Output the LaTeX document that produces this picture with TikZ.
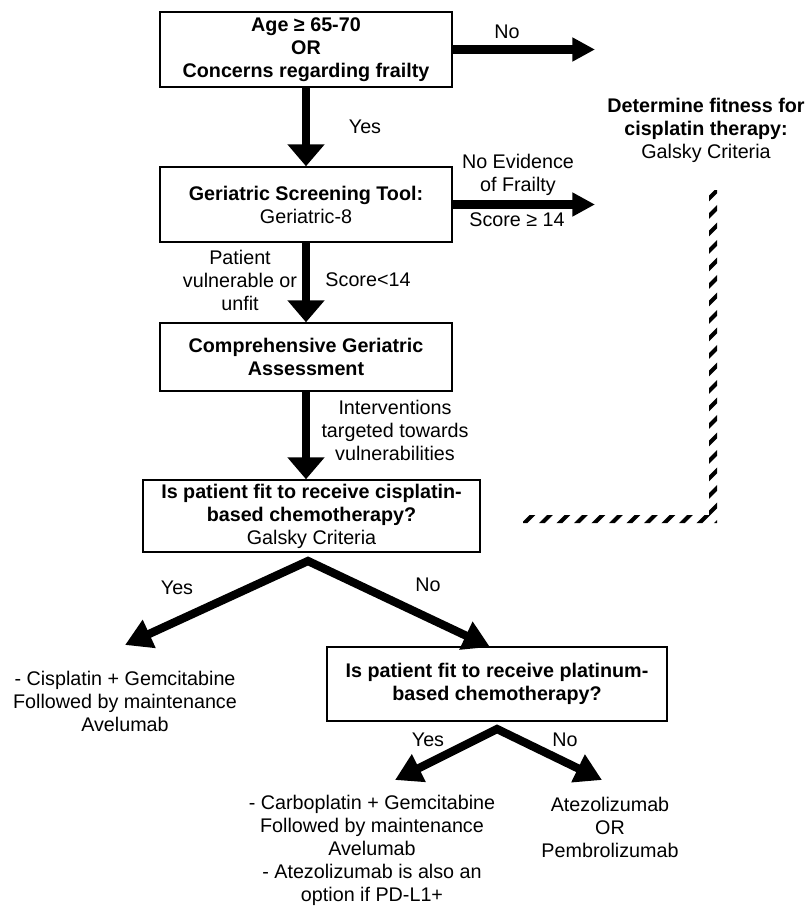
\documentclass[tikz,border=0pt]{standalone}
\usepackage{fontspec}
\setmainfont{Liberation Sans}
\usetikzlibrary{arrows.meta}
\begin{document}
\begin{tikzpicture}[x=0.75pt,y=-0.75pt,
  every node/.style={font=\fontsize{14.8}{17.25}\selectfont, align=center, inner sep=0pt},
  box/.style={draw, line width=1.1pt},
  flow/.style={line width=6.2pt, -{Triangle[length=17pt,width=17pt]}},
  vflow/.style={line width=6.2pt, -{Triangle[length=16.5pt,width=27pt]}},
  branch/.style={line width=6.2pt, line join=miter, {Triangle[length=20pt,width=22pt]}-{Triangle[length=20pt,width=22pt]}},
  stripe/.style={line width=3pt}
]
\useasboundingbox (0,0) rectangle (809,906);

% top box
\node[box, minimum width=219pt, minimum height=56.25pt] (age) at (306,49.5)
  {\textbf{Age ≥ 65-70}\\\textbf{OR}\\\textbf{Concerns regarding frailty}};
\coordinate (noend) at (595,49.5);
\draw[flow] (age.east) -- (noend);
\node (nolab) at (507,32) {No};

\node (det) at (706,130) {\textbf{Determine fitness for}\\\textbf{cisplatin therapy:}\\Galsky Criteria};

% geriatric screening
\node[box, minimum width=219pt, minimum height=56.25pt] (ger) at (306,204.5)
  {\textbf{Geriatric Screening Tool:}\\Geriatric-8};
\draw[vflow] (age.south) -- (ger.north);
\node (yes1) at (365,127) {Yes};
\coordinate (frend) at (595,204.5);
\draw[flow] (ger.east) -- (frend);
\node (nofr) at (518,174.5) {No Evidence\\of Frailty};
\node (sc14) at (517,220) {Score ≥ 14};

% CGA
\node[box, minimum width=219pt, minimum height=51pt] (cga) at (306,357)
  {\textbf{Comprehensive Geriatric}\\\textbf{Assessment}};
\draw[vflow] (ger.south) -- (cga.north);
\node (vuln) at (240,280) {Patient\\vulnerable or\\unfit};
\node (sclt) at (368,280) {Score<14};

% cisplatin fit
\node[box, minimum width=252.75pt, minimum height=54pt] (cis) at (311.5,516)
  {\textbf{Is patient fit to receive cisplatin-}\\\textbf{based chemotherapy?}\\Galsky Criteria};
\draw[vflow] (cga.south) -- (cga.south |- cis.north);
\node (interv) at (395,430) {Interventions\\targeted towards\\vulnerabilities};

\coordinate (apex1) at (308,561);
\coordinate (cisend) at (125,645);
\coordinate (platend) at (490,647);
\draw[branch] (cisend) -- (apex1) -- (platend);
\node (yes2) at (177,588) {Yes};
\node (no2) at (428,585) {No};

\node (cisres) at (125,701) {- Cisplatin + Gemcitabine\\Followed by maintenance\\Avelumab};

% platinum fit
\node[box, minimum width=255pt, minimum height=55.5pt] (plat) at (497,684)
  {\textbf{Is patient fit to receive platinum-}\\\textbf{based chemotherapy?}};

\coordinate (apex2) at (497,729);
\coordinate (carbend) at (395,780);
\coordinate (atezend) at (602,780);
\draw[branch] (carbend) -- (apex2) -- (atezend);
\node (yes3) at (428,740) {Yes};
\node (no3) at (565,740) {No};

\node (carbres) at (372,850) {- Carboplatin + Gemcitabine\\Followed by maintenance\\Avelumab\\- Atezolizumab is also an\\option if PD-L1+};
\node (atezres) at (610,827) {Atezolizumab\\OR\\Pembrolizumab};

% striped connector
\coordinate (s1) at (713,190);
\coordinate (s2) at (713,519);
\coordinate (s3) at (523,519);
\begin{scope}
  \clip (709,190) rectangle (717,523) (523,515) rectangle (717,523);
  \foreach \k in {0,...,21} {
    \pgfmathsetmacro{\c}{890+17.5*\k}
    \draw[stripe] (\c-540,540) -- (\c-180,180);
  }
\end{scope}
\end{tikzpicture}
\end{document}
